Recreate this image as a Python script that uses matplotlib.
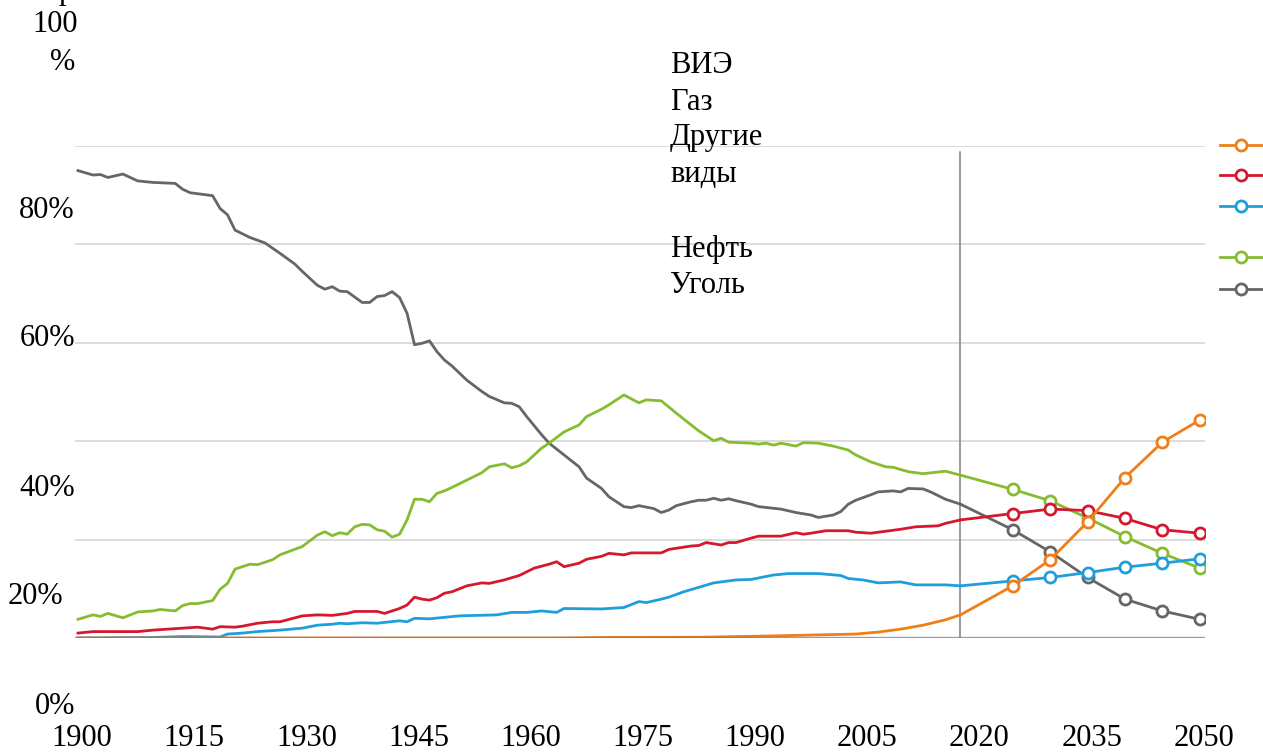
import matplotlib
matplotlib.use('Agg')
import matplotlib.pyplot as plt
from matplotlib.lines import Line2D
from matplotlib import transforms

plt.rcParams['font.family'] = ['Liberation Serif', 'DejaVu Serif']

# ---------------- data ----------------
coal_years = [1900, 1902, 1903, 1904, 1906, 1908, 1910, 1913, 1914, 1915, 1918, 1919, 1920, 1921,
              1923, 1925, 1927, 1929, 1930, 1932, 1933, 1934, 1935, 1936, 1938, 1939, 1940, 1941,
              1942, 1943, 1944, 1945, 1946, 1947, 1948, 1949, 1950, 1952, 1954, 1955, 1957, 1958,
              1959, 1960, 1962, 1963, 1965, 1967, 1968, 1970, 1971, 1973, 1974, 1975, 1977, 1978,
              1979, 1980, 1982, 1983, 1984, 1985, 1986, 1987, 1988, 1990, 1991, 1994, 1996, 1998,
              1999, 2001, 2002, 2003, 2004, 2006, 2007, 2009, 2010, 2011, 2013, 2014, 2016, 2018]
coal_vals = [95.0, 94.1, 94.2, 93.6, 94.3, 92.9, 92.6, 92.4, 91.2, 90.5, 89.9, 87.3, 86.0, 82.9,
             81.4, 80.3, 78.2, 76.0, 74.5, 71.7, 70.9, 71.4, 70.5, 70.4, 68.2, 68.2, 69.4, 69.6,
             70.4, 69.2, 66.0, 59.6, 59.9, 60.4, 58.2, 56.5, 55.3, 52.4, 50.1, 49.1, 47.8, 47.7,
             47.0, 45.0, 41.3, 39.6, 37.2, 34.8, 32.5, 30.4, 28.7, 26.7, 26.5, 26.9, 26.3, 25.5,
             26.0, 26.9, 27.7, 28.0, 28.0, 28.4, 28.0, 28.3, 27.9, 27.2, 26.7, 26.2, 25.5, 25.0,
             24.5, 25.0, 25.7, 27.2, 28.0, 29.1, 29.7, 29.9, 29.7, 30.4, 30.3, 29.7, 28.2, 27.2]

oil_years = [1900, 1902, 1903, 1904, 1906, 1908, 1910, 1911, 1913, 1914, 1915, 1916, 1918, 1919,
             1920, 1921, 1922, 1923, 1924, 1926, 1927, 1930, 1932, 1933, 1934, 1935, 1936, 1937,
             1938, 1939, 1940, 1941, 1942, 1943, 1944, 1945, 1946, 1947, 1948, 1949, 1950, 1952,
             1954, 1955, 1957, 1958, 1959, 1960, 1962, 1963, 1965, 1967, 1968, 1970, 1971, 1973,
             1975, 1976, 1978, 1980, 1982, 1983, 1985, 1986, 1987, 1990, 1991, 1992, 1993, 1994,
             1996, 1997, 1999, 2001, 2003, 2004, 2006, 2008, 2009, 2011, 2013, 2016, 2018]
oil_vals = [3.8, 4.7, 4.4, 5.0, 4.1, 5.3, 5.5, 5.8, 5.5, 6.6, 7.0, 7.0, 7.6, 9.9,
            11.1, 14.0, 14.5, 15.0, 14.9, 15.9, 16.9, 18.6, 20.9, 21.6, 20.8, 21.4, 21.1, 22.6,
            23.1, 23.0, 22.0, 21.7, 20.5, 21.1, 24.0, 28.2, 28.2, 27.7, 29.4, 29.9, 30.6, 32.1,
            33.6, 34.8, 35.4, 34.6, 35.0, 35.8, 38.6, 39.6, 41.9, 43.3, 45.0, 46.5, 47.4, 49.4,
            47.8, 48.4, 48.2, 45.7, 43.3, 42.1, 40.1, 40.6, 39.8, 39.6, 39.4, 39.6, 39.2, 39.6,
            39.0, 39.7, 39.6, 39.0, 38.2, 37.2, 35.8, 34.8, 34.7, 33.8, 33.4, 33.9, 33.1]

gas_years = [1900, 1902, 1908, 1910, 1914, 1916, 1918, 1919, 1921, 1922, 1924, 1926, 1927, 1930,
             1932, 1934, 1936, 1937, 1940, 1941, 1943, 1944, 1945, 1946, 1947, 1948, 1949, 1950,
             1952, 1954, 1955, 1957, 1959, 1961, 1963, 1964, 1965, 1967, 1968, 1970, 1971, 1973,
             1974, 1978, 1979, 1982, 1983, 1984, 1986, 1987, 1988, 1990, 1991, 1994, 1996, 1997,
             1998, 2000, 2003, 2004, 2006, 2008, 2010, 2012, 2015, 2016, 2018]
gas_vals = [1.0, 1.3, 1.3, 1.6, 2.0, 2.2, 1.8, 2.3, 2.2, 2.4, 3.0, 3.3, 3.3, 4.5,
            4.7, 4.6, 5.0, 5.4, 5.4, 5.0, 6.0, 6.7, 8.3, 7.9, 7.7, 8.2, 9.1, 9.4,
            10.6, 11.2, 11.1, 11.8, 12.7, 14.2, 15.0, 15.5, 14.5, 15.2, 16.0, 16.6, 17.2, 16.9,
            17.3, 17.3, 18.0, 18.7, 18.8, 19.4, 18.9, 19.4, 19.4, 20.3, 20.7, 20.7, 21.4, 21.1,
            21.3, 21.8, 21.8, 21.5, 21.3, 21.7, 22.1, 22.6, 22.8, 23.3, 24.0]

other_years = [1900, 1910, 1914, 1919, 1920, 1922, 1924, 1926, 1927, 1930, 1932, 1934, 1935, 1936,
               1938, 1940, 1943, 1944, 1945, 1947, 1951, 1956, 1958, 1960, 1962, 1964, 1965, 1970,
               1973, 1975, 1976, 1978, 1979, 1981, 1983, 1985, 1988, 1990, 1992, 1993, 1995, 1999,
               2002, 2003, 2005, 2007, 2010, 2012, 2016, 2018]
other_vals = [0.0, 0.1, 0.3, 0.2, 0.8, 1.0, 1.3, 1.5, 1.6, 2.0, 2.6, 2.8, 3.0, 2.9,
              3.1, 3.0, 3.5, 3.3, 4.0, 3.9, 4.5, 4.7, 5.2, 5.2, 5.5, 5.2, 6.0, 5.9,
              6.2, 7.4, 7.2, 7.9, 8.3, 9.4, 10.3, 11.2, 11.8, 11.9, 12.5, 12.8, 13.1, 13.1,
              12.7, 12.1, 11.8, 11.2, 11.4, 10.8, 10.8, 10.6]

res_years = [1900, 1964, 1970, 1983, 1992, 2001, 2004, 2007, 2010, 2013, 2016, 2018]
res_vals = [0.0, 0.0, 0.1, 0.15, 0.4, 0.7, 0.8, 1.2, 1.8, 2.6, 3.7, 4.7]

forecast_years = [2025, 2030, 2035, 2040, 2045, 2050]
coal_fc = [22.0, 17.5, 12.3, 7.9, 5.5, 3.8]
oil_fc = [30.2, 27.9, 24.4, 20.6, 17.2, 14.2]
gas_fc = [25.3, 26.2, 25.9, 24.3, 22.0, 21.3]
other_fc = [11.6, 12.3, 13.3, 14.4, 15.2, 16.1]
res_fc = [10.6, 15.9, 23.6, 32.6, 39.8, 44.3]

legend_labels = ['ВИЭ', 'Газ', 'Другие', 'виды', 'Нефть', 'Уголь']
x_tick_years = [1900, 1915, 1930, 1945, 1960, 1975, 1990, 2005, 2020, 2035, 2050]
x_tick_labels = ['1900', '1915', '1930', '1945', '1960', '1975', '1990', '2005', '2020', '2035', '2050']
y_tick_labels = ['100', '%', '80%', '60%', '40%', '20%', '0%']
split_year = 2018

# ---------------- styling ----------------
C_COAL = '#666666'
C_OIL = '#86bc30'
C_GAS = '#d5182e'
C_OTHER = '#1e9fdb'
C_RES = '#ef7f1a'
FS = 22

W, H = 1263, 754
fig = plt.figure(figsize=(W / 100, H / 100), dpi=100)


def fx(px):
    return px / W


def fy(py):
    return 1 - py / H


ax = fig.add_axes([fx(75), fy(638), fx(1205) - fx(75), fy(146) - fy(638)])
ax.set_xlim(1899.6, 2050.7)
ax.set_ylim(0, 100)
ax.axis('off')

for v in [20, 40, 60, 80, 100]:
    ax.axhline(v, color='#d9d9d9', lw=1.3, zorder=1)

ax.plot([split_year, split_year], [0, 98.8], color='#808080', lw=1.1, zorder=2)

series = [
    (coal_years, coal_vals, coal_fc, C_COAL),
    (oil_years, oil_vals, oil_fc, C_OIL),
    (gas_years, gas_vals, gas_fc, C_GAS),
    (other_years, other_vals, other_fc, C_OTHER),
    (res_years, res_vals, res_fc, C_RES),
]
for i, (yrs, vals, fc, col) in enumerate(series):
    z = 3 + i
    ax.plot(yrs, vals, color=col, lw=2.0, zorder=z, solid_joinstyle='round')
    ax.plot([yrs[-1]] + forecast_years, [vals[-1]] + fc, color=col, lw=2.0, zorder=z,
            solid_joinstyle='round')
    ax.plot(forecast_years, fc, 'o', mfc='white', mec=col, ms=8, mew=2.0, zorder=z + 0.5)

# baseline
ax.axhline(0, color='#7a7a7a', lw=2.4, alpha=0.75, zorder=9)

# x tick labels
bt = transforms.blended_transform_factory(ax.transData, fig.transFigure)
off = transforms.ScaledTranslation(4 / 100, 0, fig.dpi_scale_trans)
for yr, lab in zip(x_tick_years, x_tick_labels):
    fig.text(yr, fy(739), lab, transform=bt + off, ha='center', va='center', fontsize=FS)

# y labels (as placed in the source)
y_pos = [(78, 25), (75, 63), (75, 211), (75, 338), (75, 488), (63, 597), (75, 707)]
for lab, (px, py) in zip(y_tick_labels, y_pos):
    fig.text(fx(px), fy(py), lab, ha='right', va='center', fontsize=FS)

# cut-off heading fragment at the very top
fig.text(fx(66), fy(-1), 'р', ha='center', va='baseline', fontsize=FS)

# legend texts
baselines = [73, 110, 145, 182, 257, 293]
for lab, b in zip(legend_labels, baselines):
    fig.text(fx(670), fy(b), lab, ha='left', va='baseline', fontsize=FS)

# legend markers on the right
leg_cols = [C_RES, C_GAS, C_OTHER, C_OIL, C_COAL]
leg_y = [145, 175, 206, 257, 289]
for col, yy in zip(leg_cols, leg_y):
    fig.add_artist(Line2D([fx(1220), fx(1263)], [fy(yy), fy(yy)], color=col, lw=2.0,
                          transform=fig.transFigure))
    fig.add_artist(Line2D([fx(1241)], [fy(yy)], marker='o', mfc='white', mec=col, ms=8,
                          mew=2.0, transform=fig.transFigure))

fig.savefig('out.png', dpi=100)
